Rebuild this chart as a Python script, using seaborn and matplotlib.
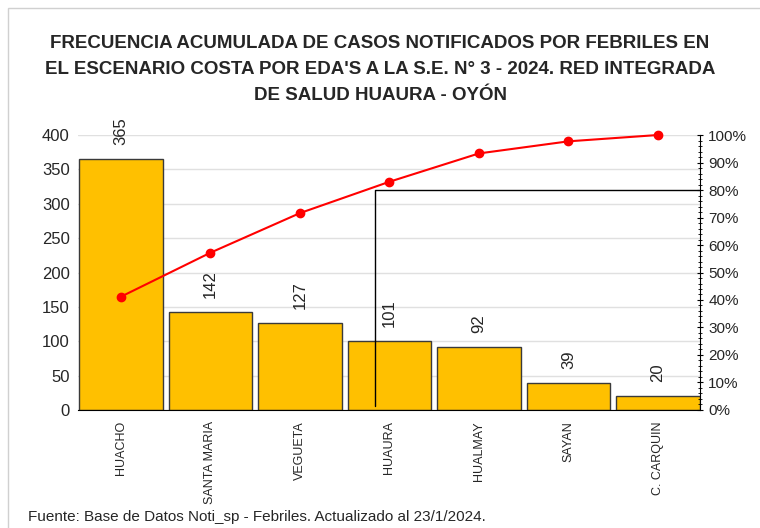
import matplotlib
matplotlib.use("Agg")
import matplotlib.pyplot as plt
import seaborn as sns
import pandas as pd
from matplotlib.ticker import MultipleLocator, FuncFormatter
from matplotlib.patches import Rectangle

distritos = ["HUACHO", "SANTA MARIA", "VEGUETA", "HUAURA", "HUALMAY", "SAYAN", "C. CARQUIN"]
casos = [365, 142, 127, 101, 92, 39, 20]
pct_acum = [41.2, 57.2, 71.6, 83.0, 93.3, 97.7, 100.0]
corte_pct = 80
corte_x = 2.84

titulo = ("FRECUENCIA ACUMULADA DE CASOS NOTIFICADOS POR FEBRILES EN\n"
          "EL ESCENARIO COSTA POR EDA'S A LA S.E. N° 3 - 2024. RED INTEGRADA\n"
          "DE SALUD HUAURA - OYÓN")
fuente = "Fuente: Base de Datos Noti_sp - Febriles. Actualizado al 23/1/2024."

sns.set_style("white")
plt.rcParams['font.family'] = ['Liberation Sans', 'DejaVu Sans']

df = pd.DataFrame({"distrito": distritos, "casos": casos})

fig = plt.figure(figsize=(7.6, 5.28), dpi=100)
ax = fig.add_axes([0.1026, 0.2235, 0.8184, 0.5208])

sns.barplot(data=df, x="distrito", y="casos", ax=ax, color="#FFC000",
            saturation=1, width=0.93, edgecolor="#3a3a3a", linewidth=1, zorder=2)
ax.set_xlim(-0.48, 6.47)
ax.set_ylim(0, 400)
ax.yaxis.set_major_locator(MultipleLocator(50))
ax.grid(axis="y", color="#e0e0e0", linewidth=1, zorder=0)
ax.set_axisbelow(True)
ax.set_xlabel("")
ax.set_ylabel("")
for s in ["top", "left", "right"]:
    ax.spines[s].set_visible(False)
ax.spines["bottom"].set_color("black")
ax.tick_params(axis="y", length=0, labelsize=12, pad=6)
ax.tick_params(axis="x", length=4, color="black", labelsize=9, rotation=90, pad=4)

for i, v in enumerate(casos):
    ax.annotate(str(v), (i, v), xytext=(0, 10), textcoords="offset points",
                rotation=90, ha="center", va="bottom", fontsize=12)

ax2 = ax.twinx()
ax2.set_ylim(0, 100)
ax2.plot(range(len(pct_acum)), pct_acum, color="red", linewidth=1.5,
         marker="o", markersize=6, zorder=5, clip_on=False)
ax2.plot([corte_x, corte_x, 6.47], [1.5, corte_pct, corte_pct], color="black", linewidth=1, zorder=4)
ax2.yaxis.set_major_locator(MultipleLocator(10))
ax2.yaxis.set_minor_locator(MultipleLocator(2))
ax2.yaxis.set_major_formatter(FuncFormatter(lambda v, p: f"{v:.0f}%"))
ax2.tick_params(axis="y", which="major", length=5, labelsize=11, color="black", direction="inout")
ax2.tick_params(axis="y", which="minor", length=3, color="black", direction="inout")
for s in ["top", "left", "bottom"]:
    ax2.spines[s].set_visible(False)
ax2.spines["right"].set_color("black")
ax2.set_xlim(-0.48, 6.47)

fig.text(0.5, 0.868, titulo, ha="center", va="center", fontsize=13.5,
         fontweight="bold", linespacing=1.7)
fig.text(0.037, 0.02, fuente, ha="left", va="center", fontsize=11)

fig.patches.append(Rectangle((0.011, -0.1), 1.2, 1.084, transform=fig.transFigure,
                             fill=False, edgecolor="#d0d0d0", linewidth=1))

fig.savefig("out.png", dpi=100)
